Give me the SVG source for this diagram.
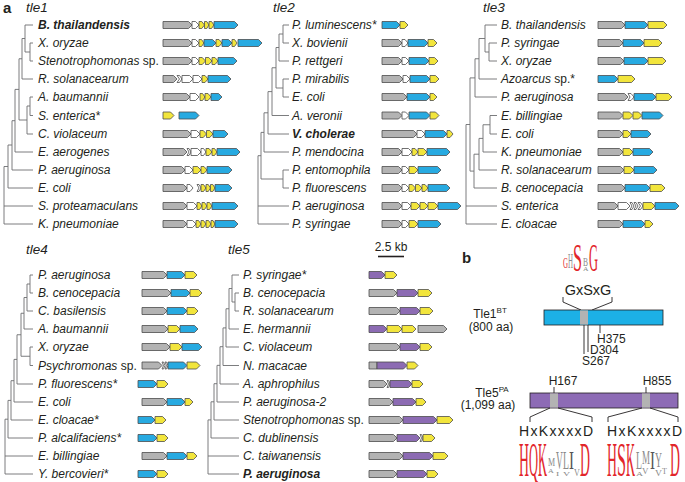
<svg xmlns="http://www.w3.org/2000/svg" width="685" height="482" viewBox="0 0 685 482">
<style>
text{font-family:"Liberation Sans",Arial,sans-serif;fill:#231f20}
.l{font-size:12px;font-style:italic}
.bd{font-weight:bold}
.up{font-style:normal}
.h{font-size:13.5px;font-style:italic}
.pl{font-size:15px;font-weight:bold}
.g{fill:#b3b3b3;stroke:#4d4d4d;stroke-width:.8}
.w{fill:#fff;stroke:#4d4d4d;stroke-width:.8}
.y{fill:#f2e53c;stroke:#4d4d4d;stroke-width:.8}
.b{fill:#27aae1;stroke:#4d4d4d;stroke-width:.8}
.p{fill:#8c6bb3;stroke:#4d4d4d;stroke-width:.8}
.tr{fill:none;stroke:#6d6e71;stroke-width:.9}
.k{fill:none;stroke:#231f20;stroke-width:.9}
.s{font-size:12px}
.lr{font-family:"Liberation Serif","Times New Roman",serif;fill:#e2262b}
.lg{font-family:"Liberation Serif","Times New Roman",serif;fill:#8a8a8a}
.ld{font-family:"Liberation Serif","Times New Roman",serif;fill:#555}
</style>
<rect width="685" height="482" fill="#fff"/>
<text class="pl" x="3" y="13">a</text>
<text class="h" x="26" y="12">tle1</text>
<text class="h" x="273" y="12">tle2</text>
<text class="h" x="483" y="12">tle3</text>
<text class="h" x="26" y="254">tle4</text>
<text class="h" x="228" y="254">tle5</text>
<g id="connectors">
<path class="tr" d="M33 43H30V61H33M33 25H25V52H30M33 79H22V38.5H25M33 97H30V115.5H33M33 134H27V106H30M22 58.75H19V120H27M33 152H15V89.4H19M33 170H12V120.7H15M33 188H8V145H12M8 166.5H4V224H33M4 206H33"/>
<path class="tr" d="M289 25H283V43H289M289 61H279V34H283M289 79H283V97H289M279 47.5H276V88H283M289 115.5H272V67.75H276M289 134H268V91.6H272M289 152H264V112.8H268M289 170H283V188H289M264 132.4H261V179H283M261 155.7H258V224H289M258 206H289"/>
<path class="tr" d="M497 43H489V61H497M497 25H485V52H489M497 79H479V38.5H485M497 97H475V58.75H479M497 115.5H490V134H497M497 152H483V124.75H490M497 170H479V138.4H483M497 188H474V154.2H479M475 77.9H470V171.1H474M470 124.5H466V224H497M466 206H497"/>
<path class="tr" d="M33 275H30V293H33M33 311H27V284H30M33 329H24V297.5H27M33 347H30V365.5H33M24 313.25H21V356.25H30M33 384H17V334.75H21M33 402H14V359.4H17M33 420H11V380.7H14M33 438H8V400.4H11M8 419.2H5V474H33M5 456H33"/>
<path class="tr" d="M239 293H235V311H239M239 275H232V302H235M239 329H229V288.5H232M239 347H226V308.75H229M239 365.5H223V327.9H226M239 384H220V346.7H223M239 402H217V365.35H220M239 420H214V383.7H217M239 438H211V401.8H214M211 419.9H208V474H239M208 456H239"/>
</g>
<!-- tle1 -->
<g id="t1-bthai" transform="translate(0,25)"><text class="l bd" x="38" y="4.3">B. thailandensis</text>
<path class="g" d="M163-3.5H188.5L192 0L188.5 3.5H163Z"/><path class="w" d="M192-3.5H195.5L199 0L195.5 3.5H192Z"/><path class="y" d="M199-3.5H201.75L204.5 0L201.75 3.5H199Z"/><path class="y" d="M204.5-3.5H206.75L209 0L206.75 3.5H204.5Z"/><path class="y" d="M209-3.5H211.5L214 0L211.5 3.5H209Z"/><path class="b" d="M214-3.5H234.5L238 0L234.5 3.5H214Z"/></g>
<g id="t1-xory" transform="translate(0,43)"><text class="l" x="38" y="4.3">X. oryzae</text>
<path class="g" d="M163-3.5H188.5L192 0L188.5 3.5H163Z"/><path class="w" d="M192-3.5H195.5L199 0L195.5 3.5H192Z"/><path class="y" d="M199-3.5H201.5L204 0L201.5 3.5H199Z"/><path class="b" d="M204-3.5H212.5L216 0L212.5 3.5H204Z"/><path class="y" d="M216-3.5H219L222 0L219 3.5H216Z"/><path class="b" d="M222-3.5H228.5L232 0L228.5 3.5H222Z"/><path class="y" d="M232-3.5H234.5L237 0L234.5 3.5H232Z"/><path class="b" d="M238-3.5H258.5L262 0L258.5 3.5H238Z"/></g>
<g id="t1-steno" transform="translate(0,61)"><text class="l" x="38" y="4.3">Stenotrophomonas <tspan class="up">sp.</tspan></text>
<path class="g" d="M163-3.5H188.5L192 0L188.5 3.5H163Z"/><path class="w" d="M192-3.5H195.5L199 0L195.5 3.5H192Z"/><path class="y" d="M199-3.5H202.25L205.5 0L202.25 3.5H199Z"/><path class="y" d="M205.5-3.5H208.75L212 0L208.75 3.5H205.5Z"/><path class="y" d="M212-3.5H215L218 0L215 3.5H212Z"/><path class="b" d="M218-3.5H233.5L237 0L233.5 3.5H218Z"/></g>
<g id="t1-rsol" transform="translate(0,79)"><text class="l" x="38" y="4.3">R. solanacearum</text>
<path class="g" d="M163-3.5H173.5L177 0L173.5 3.5H163Z"/><path class="w" d="M177-3.5H179.5L182 0L179.5 3.5H177L179.5 0Z"/><path class="w" d="M182-3.5H189.5L193 0L189.5 3.5H182Z"/><path class="w" d="M193-3.5H198.5L202 0L198.5 3.5H193Z"/><path class="y" d="M202-3.5H205L208 0L205 3.5H202Z"/><path class="b" d="M208-3.5H227.5L231 0L227.5 3.5H208Z"/></g>
<g id="t1-abau" transform="translate(0,97)"><text class="l" x="38" y="4.3">A. baumannii</text>
<path class="g" d="M163-3.5H186.5L190 0L186.5 3.5H163Z"/><path class="w" d="M190-3.5H195.5L199 0L195.5 3.5H190Z"/><path class="y" d="M200-3.5H202.5L205 0L202.5 3.5H200Z"/><path class="y" d="M205-3.5H208L211 0L208 3.5H205Z"/><path class="b" d="M211-3.5H218.5L222 0L218.5 3.5H211Z"/></g>
<g id="t1-sent" transform="translate(0,115.5)"><text class="l" x="38" y="4.3">S. enterica*</text>
<path class="y" d="M163-3.5H170.5L174 0L170.5 3.5H163Z"/><path class="b" d="M179-3.5H195.5L199 0L195.5 3.5H179Z"/></g>
<g id="t1-cvio" transform="translate(0,134)"><text class="l" x="38" y="4.3">C. violaceum</text>
<path class="g" d="M163-3.5H187.5L191 0L187.5 3.5H163Z"/><path class="w" d="M191-3.5H196.5L200 0L196.5 3.5H191Z"/><path class="y" d="M200-3.5H203.25L206.5 0L203.25 3.5H200Z"/><path class="y" d="M206.5-3.5H209.75L213 0L209.75 3.5H206.5Z"/><path class="b" d="M213-3.5H224.5L228 0L224.5 3.5H213Z"/></g>
<g id="t1-eaer" transform="translate(0,152)"><text class="l" x="38" y="4.3">E. aerogenes</text>
<path class="g" d="M163-3.5H183.5L187 0L183.5 3.5H163Z"/><path class="w" d="M187-3.5H189L191 0L189 3.5H187L189 0Z"/><path class="w" d="M191-3.5H197.5L201 0L197.5 3.5H191Z"/><path class="w" d="M201-3.5H203.5L206 0L203.5 3.5H201Z"/><path class="y" d="M206-3.5H209L212 0L209 3.5H206Z"/><path class="y" d="M212-3.5H214.5L217 0L214.5 3.5H212Z"/><path class="b" d="M217-3.5H236.5L240 0L236.5 3.5H217Z"/></g>
<g id="t1-paer" transform="translate(0,170)"><text class="l" x="38" y="4.3">P. aeruginosa</text>
<path class="g" d="M163-3.5H181.5L185 0L181.5 3.5H163Z"/><path class="w" d="M185-3.5H189.5L193 0L189.5 3.5H185Z"/><path class="y" d="M193-3.5H197.5L201 0L197.5 3.5H193Z"/><path class="y" d="M201-3.5H204L207 0L204 3.5H201Z"/><path class="b" d="M207-3.5H228.5L232 0L228.5 3.5H207Z"/></g>
<g id="t1-ecoli" transform="translate(0,188)"><text class="l" x="38" y="4.3">E. coli</text>
<path class="g" d="M163-3.5H183.5L187 0L183.5 3.5H163Z"/><path class="w" d="M187-3.5H190L193 0L190 3.5H187Z"/><path class="w" d="M197-3.5H199L201 0L199 3.5H197L199 0Z"/><path class="y" d="M201-3.5H203.5L206 0L203.5 3.5H201Z"/><path class="y" d="M206-3.5H208.25L210.5 0L208.25 3.5H206Z"/><path class="y" d="M210.5-3.5H212.75L215 0L212.75 3.5H210.5Z"/><path class="b" d="M215-3.5H228.5L232 0L228.5 3.5H215Z"/></g>
<g id="t1-sprot" transform="translate(0,206)"><text class="l" x="38" y="4.3">S. proteamaculans</text>
<path class="g" d="M163-3.5H183.5L187 0L183.5 3.5H163Z"/><path class="w" d="M187-3.5H193.5L197 0L193.5 3.5H187Z"/><path class="y" d="M197-3.5H199.5L202 0L199.5 3.5H197Z"/><path class="y" d="M202-3.5H204.5L207 0L204.5 3.5H202Z"/><path class="y" d="M207-3.5H209.5L212 0L209.5 3.5H207Z"/><path class="b" d="M212-3.5H234.5L238 0L234.5 3.5H212Z"/></g>
<g id="t1-kpn" transform="translate(0,224)"><text class="l" x="38" y="4.3">K. pneumoniae</text>
<path class="g" d="M163-3.5H183.5L187 0L183.5 3.5H163Z"/><path class="w" d="M187-3.5H192.5L196 0L192.5 3.5H187Z"/><path class="y" d="M196-3.5H198.5L201 0L198.5 3.5H196Z"/><path class="y" d="M201-3.5H203.5L206 0L203.5 3.5H201Z"/><path class="y" d="M206-3.5H208.5L211 0L208.5 3.5H206Z"/><path class="y" d="M211-3.5H213L215 0L213 3.5H211Z"/><path class="b" d="M215-3.5H234.5L238 0L234.5 3.5H215Z"/></g>
<!-- tle2 -->
<g id="t2-plum" transform="translate(0,25)"><text class="l" x="292" y="4.3">P. luminescens*</text>
<path class="b" d="M382-3.5H396.5L400 0L396.5 3.5H382Z"/><path class="y" d="M400-3.5H404.5L408 0L404.5 3.5H400Z"/></g>
<g id="t2-xbov" transform="translate(0,43)"><text class="l" x="292" y="4.3">X. bovienii</text>
<path class="g" d="M382-3.5H398.5L402 0L398.5 3.5H382Z"/><path class="w" d="M402-3.5H405L408 0L405 3.5H402Z"/><path class="b" d="M408-3.5H424.5L428 0L424.5 3.5H408Z"/><path class="y" d="M428-3.5H433.5L437 0L433.5 3.5H428Z"/></g>
<g id="t2-pret" transform="translate(0,61)"><text class="l" x="292" y="4.3">P. rettgeri</text>
<path class="g" d="M382-3.5H398.5L402 0L398.5 3.5H382Z"/><path class="w" d="M402-3.5H405.5L409 0L405.5 3.5H402Z"/><path class="b" d="M409-3.5H425.5L429 0L425.5 3.5H409Z"/><path class="y" d="M429-3.5H434.5L438 0L434.5 3.5H429Z"/></g>
<g id="t2-pmir" transform="translate(0,79)"><text class="l" x="292" y="4.3">P. mirabilis</text>
<path class="g" d="M382-3.5H399.5L403 0L399.5 3.5H382Z"/><path class="w" d="M403-3.5H406.5L410 0L406.5 3.5H403Z"/><path class="b" d="M410-3.5H426.5L430 0L426.5 3.5H410Z"/><path class="y" d="M430-3.5H435.5L439 0L435.5 3.5H430Z"/></g>
<g id="t2-ecoli" transform="translate(0,97)"><text class="l" x="292" y="4.3">E. coli</text>
<path class="g" d="M382-3.5H403.5L407 0L403.5 3.5H382Z"/><path class="b" d="M407-3.5H426.5L430 0L426.5 3.5H407Z"/><path class="y" d="M430-3.5H433.5L437 0L433.5 3.5H430Z"/></g>
<g id="t2-aver" transform="translate(0,115.5)"><text class="l" x="292" y="4.3">A. veronii</text>
<path class="g" d="M382-3.5H398.5L402 0L398.5 3.5H382Z"/><path class="w" d="M402-3.5H405.5L409 0L405.5 3.5H402Z"/><path class="b" d="M409-3.5H426.5L430 0L426.5 3.5H409Z"/><path class="y" d="M430-3.5H435.5L439 0L435.5 3.5H430Z"/></g>
<g id="t2-vcho" transform="translate(0,134)"><text class="l bd" x="292" y="4.3">V. cholerae</text>
<path class="g" d="M382-3.5H413.5L417 0L413.5 3.5H382Z"/><path class="w" d="M417-3.5H421.5L425 0L421.5 3.5H417Z"/><path class="b" d="M425-3.5H443.5L447 0L443.5 3.5H425Z"/><path class="y" d="M447-3.5H450L453 0L450 3.5H447Z"/></g>
<g id="t2-pmen" transform="translate(0,152)"><text class="l" x="292" y="4.3">P. mendocina</text>
<path class="g" d="M382-3.5H398.5L402 0L398.5 3.5H382Z"/><path class="w" d="M402-3.5H408.5L412 0L408.5 3.5H402Z"/><path class="y" d="M412-3.5H415L418 0L415 3.5H412Z"/><path class="y" d="M418-3.5H423.5L427 0L423.5 3.5H418Z"/><path class="b" d="M427-3.5H446.5L450 0L446.5 3.5H427Z"/></g>
<g id="t2-pent" transform="translate(0,170)"><text class="l" x="292" y="4.3">P. entomophila</text>
<path class="g" d="M382-3.5H398.5L402 0L398.5 3.5H382Z"/><path class="w" d="M402-3.5H405.5L409 0L405.5 3.5H402Z"/><path class="y" d="M409-3.5H414.5L418 0L414.5 3.5H409Z"/><path class="b" d="M418-3.5H437.5L441 0L437.5 3.5H418Z"/></g>
<g id="t2-pflu" transform="translate(0,188)"><text class="l" x="292" y="4.3">P. fluorescens</text>
<path class="g" d="M382-3.5H398.5L402 0L398.5 3.5H382Z"/><path class="w" d="M402-3.5H405.5L409 0L405.5 3.5H402Z"/><path class="y" d="M409-3.5H412.25L415.5 0L412.25 3.5H409Z"/><path class="y" d="M415.5-3.5H418.75L422 0L418.75 3.5H415.5Z"/><path class="y" d="M422-3.5H425L428 0L425 3.5H422Z"/><path class="b" d="M428-3.5H446.5L450 0L446.5 3.5H428Z"/></g>
<g id="t2-paer" transform="translate(0,206)"><text class="l" x="292" y="4.3">P. aeruginosa</text>
<path class="g" d="M382-3.5H398.5L402 0L398.5 3.5H382Z"/><path class="w" d="M402-3.5H407.5L411 0L407.5 3.5H402Z"/><path class="y" d="M411-3.5H416.5L420 0L416.5 3.5H411Z"/><path class="y" d="M420-3.5H424.5L428 0L424.5 3.5H420Z"/><path class="y" d="M428-3.5H434.5L438 0L434.5 3.5H428Z"/><path class="b" d="M438-3.5H457.5L461 0L457.5 3.5H438Z"/></g>
<g id="t2-psyr" transform="translate(0,224)"><text class="l" x="292" y="4.3">P. syringae</text>
<path class="g" d="M382-3.5H398.5L402 0L398.5 3.5H382Z"/><path class="w" d="M402-3.5H405.5L409 0L405.5 3.5H402Z"/><path class="y" d="M409-3.5H414.5L418 0L414.5 3.5H409Z"/><path class="b" d="M418-3.5H437.5L441 0L437.5 3.5H418Z"/></g>
<!-- tle3 -->
<g id="t3-bthai" transform="translate(0,25)"><text class="l" x="501" y="4.3">B. thailandensis</text>
<path class="g" d="M598-3.5H621.5L625 0L621.5 3.5H598Z"/><path class="b" d="M625-3.5H644.5L648 0L644.5 3.5H625Z"/><path class="y" d="M648-3.5H663.5L667 0L663.5 3.5H648Z"/></g>
<g id="t3-psyr" transform="translate(0,43)"><text class="l" x="501" y="4.3">P. syringae</text>
<path class="g" d="M598-3.5H619.5L623 0L619.5 3.5H598Z"/><path class="b" d="M623-3.5H640.5L644 0L640.5 3.5H623Z"/><path class="y" d="M644-3.5H658.5L662 0L658.5 3.5H644Z"/></g>
<g id="t3-xory" transform="translate(0,61)"><text class="l" x="501" y="4.3">X. oryzae</text>
<path class="g" d="M598-3.5H620.5L624 0L620.5 3.5H598Z"/><path class="b" d="M624-3.5H644.5L648 0L644.5 3.5H624Z"/><path class="y" d="M648-3.5H662.5L666 0L662.5 3.5H648Z"/></g>
<g id="t3-azo" transform="translate(0,79)"><text class="l" x="501" y="4.3">Azoarcus <tspan class="up">sp.*</tspan></text>
<path class="b" d="M598-3.5H614.5L618 0L614.5 3.5H598Z"/><path class="y" d="M618-3.5H631.5L635 0L631.5 3.5H618Z"/></g>
<g id="t3-paer" transform="translate(0,97)"><text class="l" x="501" y="4.3">P. aeruginosa</text>
<path class="g" d="M598-3.5H624.5L628 0L624.5 3.5H598Z"/><path class="w" d="M628-3.5H631L634 0L631 3.5H628L630 0Z"/><path class="b" d="M634-3.5H652.5L656 0L652.5 3.5H634Z"/><path class="y" d="M656-3.5H668.5L672 0L668.5 3.5H656Z"/></g>
<g id="t3-ebil" transform="translate(0,115.5)"><text class="l" x="501" y="4.3">E. billingiae</text>
<path class="g" d="M598-3.5H619.5L623 0L619.5 3.5H598Z"/><path class="y" d="M623-3.5H629.5L633 0L629.5 3.5H623Z"/><path class="y" d="M633-3.5H638.5L642 0L638.5 3.5H633Z"/><path class="b" d="M642-3.5H659.5L663 0L659.5 3.5H642Z"/></g>
<g id="t3-ecoli" transform="translate(0,134)"><text class="l" x="501" y="4.3">E. coli</text>
<path class="g" d="M598-3.5H619.5L623 0L619.5 3.5H598Z"/><path class="y" d="M623-3.5H627.5L631 0L627.5 3.5H623Z"/><path class="b" d="M631-3.5H647.5L651 0L647.5 3.5H631Z"/></g>
<g id="t3-kpn" transform="translate(0,152)"><text class="l" x="501" y="4.3">K. pneumoniae</text>
<path class="g" d="M598-3.5H619.5L623 0L619.5 3.5H598Z"/><path class="y" d="M623-3.5H629.5L633 0L629.5 3.5H623Z"/><path class="b" d="M633-3.5H649.5L653 0L649.5 3.5H633Z"/></g>
<g id="t3-rsol" transform="translate(0,170)"><text class="l" x="501" y="4.3">R. solanacearum</text>
<path class="g" d="M598-3.5H620.5L624 0L620.5 3.5H598Z"/><path class="y" d="M624-3.5H630.5L634 0L630.5 3.5H624Z"/><path class="b" d="M634-3.5H653.5L657 0L653.5 3.5H634Z"/></g>
<g id="t3-bcen" transform="translate(0,188)"><text class="l" x="501" y="4.3">B. cenocepacia</text>
<path class="g" d="M598-3.5H621.5L625 0L621.5 3.5H598Z"/><path class="b" d="M625-3.5H646.5L650 0L646.5 3.5H625Z"/><path class="y" d="M650-3.5H661.5L665 0L661.5 3.5H650Z"/></g>
<g id="t3-sent" transform="translate(0,206)"><text class="l" x="501" y="4.3">S. enterica</text>
<path class="g" d="M598-3.5H614.5L618 0L614.5 3.5H598Z"/><path class="w" d="M618-3.5H626.5L630 0L626.5 3.5H618Z"/><path class="w" d="M630-3.5H632L634 0L632 3.5H630L632 0Z"/><path class="w" d="M634-3.5H636L638 0L636 3.5H634L636 0Z"/><path class="w" d="M638-3.5H640.5L643 0L640.5 3.5H638L640.5 0Z"/><path class="y" d="M643-3.5H651.5L655 0L651.5 3.5H643Z"/><path class="b" d="M655-3.5H675.5L679 0L675.5 3.5H655Z"/></g>
<g id="t3-eclo" transform="translate(0,224)"><text class="l" x="501" y="4.3">E. cloacae</text>
<path class="g" d="M598-3.5H619.5L623 0L619.5 3.5H598Z"/><path class="b" d="M623-3.5H641.5L645 0L641.5 3.5H623Z"/><path class="y" d="M645-3.5H649.5L653 0L649.5 3.5H645Z"/></g>
<!-- tle4 -->
<g id="t4-paer" transform="translate(0,275)"><text class="l" x="38" y="4.3">P. aeruginosa</text>
<path class="g" d="M142-3.5H163.5L167 0L163.5 3.5H142Z"/><path class="b" d="M167-3.5H181.5L185 0L181.5 3.5H167Z"/><path class="y" d="M185-3.5H193.5L197 0L193.5 3.5H185Z"/></g>
<g id="t4-bcen" transform="translate(0,293)"><text class="l" x="38" y="4.3">B. cenocepacia</text>
<path class="g" d="M142-3.5H167.5L171 0L167.5 3.5H142Z"/><path class="b" d="M171-3.5H186.5L190 0L186.5 3.5H171Z"/><path class="y" d="M190-3.5H198.5L202 0L198.5 3.5H190Z"/></g>
<g id="t4-cbas" transform="translate(0,311)"><text class="l" x="38" y="4.3">C. basilensis</text>
<path class="g" d="M142-3.5H163.5L167 0L163.5 3.5H142Z"/><path class="b" d="M167-3.5H183.5L187 0L183.5 3.5H167Z"/><path class="y" d="M187-3.5H194.5L198 0L194.5 3.5H187Z"/></g>
<g id="t4-abau" transform="translate(0,329)"><text class="l" x="38" y="4.3">A. baumannii</text>
<path class="g" d="M142-3.5H164.5L168 0L164.5 3.5H142Z"/><path class="y" d="M168-3.5H176.5L180 0L176.5 3.5H168Z"/><path class="b" d="M180-3.5H194.5L198 0L194.5 3.5H180Z"/></g>
<g id="t4-xory" transform="translate(0,347)"><text class="l" x="38" y="4.3">X. oryzae</text>
<path class="g" d="M142-3.5H166.5L170 0L166.5 3.5H142Z"/><path class="y" d="M170-3.5H178.5L182 0L178.5 3.5H170Z"/><path class="b" d="M182-3.5H198.5L202 0L198.5 3.5H182Z"/></g>
<g id="t4-psy" transform="translate(0,365.5)"><text class="l" x="38" y="4.3">Psychromonas <tspan class="up">sp.</tspan></text>
<path class="g" d="M142-3.5H158.5L162 0L158.5 3.5H142Z"/><path class="w" d="M162-3.5H163.5L165 0L163.5 3.5H162L163.5 0Z"/><path class="w" d="M165-3.5H166.5L168 0L166.5 3.5H165L166.5 0Z"/><path class="b" d="M168-3.5H183.5L187 0L183.5 3.5H168Z"/><path class="y" d="M187-3.5H196.5L200 0L196.5 3.5H187Z"/></g>
<g id="t4-pflu" transform="translate(0,384)"><text class="l" x="38" y="4.3">P. fluorescens*</text>
<path class="b" d="M138-3.5H153.5L157 0L153.5 3.5H138Z"/><path class="y" d="M157-3.5H164.5L168 0L164.5 3.5H157Z"/></g>
<g id="t4-ecoli" transform="translate(0,402)"><text class="l" x="38" y="4.3">E. coli</text>
<path class="g" d="M142-3.5H163.5L167 0L163.5 3.5H142Z"/><path class="b" d="M167-3.5H181.5L185 0L181.5 3.5H167Z"/><path class="y" d="M185-3.5H189.5L193 0L189.5 3.5H185Z"/></g>
<g id="t4-eclo" transform="translate(0,420)"><text class="l" x="38" y="4.3">E. cloacae*</text>
<path class="b" d="M138-3.5H151.5L155 0L151.5 3.5H138Z"/><path class="y" d="M155-3.5H162.5L166 0L162.5 3.5H155Z"/></g>
<g id="t4-palc" transform="translate(0,438)"><text class="l" x="38" y="4.3">P. alcalifaciens*</text>
<path class="b" d="M138-3.5H153.5L157 0L153.5 3.5H138Z"/><path class="y" d="M157-3.5H164.5L168 0L164.5 3.5H157Z"/></g>
<g id="t4-ebil" transform="translate(0,456)"><text class="l" x="38" y="4.3">E. billingiae</text>
<path class="g" d="M142-3.5H163.5L167 0L163.5 3.5H142Z"/><path class="b" d="M167-3.5H183.5L187 0L183.5 3.5H167Z"/><path class="y" d="M187-3.5H193.5L197 0L193.5 3.5H187Z"/></g>
<g id="t4-yber" transform="translate(0,474)"><text class="l" x="38" y="4.3">Y. bercovieri*</text>
<path class="b" d="M138-3.5H153.5L157 0L153.5 3.5H138Z"/><path class="y" d="M157-3.5H164.5L168 0L164.5 3.5H157Z"/></g>
<!-- tle5 -->
<g id="t5-psyr" transform="translate(0,275)"><text class="l" x="243" y="4.3">P. syringae*</text>
<path class="p" d="M369-3.5H381.5L385 0L381.5 3.5H369Z"/><path class="y" d="M385-3.5H393.5L397 0L393.5 3.5H385Z"/></g>
<g id="t5-bcen" transform="translate(0,293)"><text class="l" x="243" y="4.3">B. cenocepacia</text>
<path class="g" d="M369-3.5H393.5L397 0L393.5 3.5H369Z"/><path class="p" d="M397-3.5H414.5L418 0L414.5 3.5H397Z"/><path class="y" d="M418-3.5H428.5L432 0L428.5 3.5H418Z"/></g>
<g id="t5-rsol" transform="translate(0,311)"><text class="l" x="243" y="4.3">R. solanacearum</text>
<path class="g" d="M369-3.5H396.5L400 0L396.5 3.5H369Z"/><path class="p" d="M400-3.5H416.5L420 0L416.5 3.5H400Z"/><path class="y" d="M420-3.5H429.5L433 0L429.5 3.5H420Z"/></g>
<g id="t5-eher" transform="translate(0,329)"><text class="l" x="243" y="4.3">E. hermannii</text>
<path class="p" d="M369-3.5H383.5L387 0L383.5 3.5H369Z"/><path class="y" d="M387-3.5H398.5L402 0L398.5 3.5H387Z"/><path class="y" d="M402-3.5H412.5L416 0L412.5 3.5H402Z"/><path class="g" d="M418-3.5H443.5L447 0L443.5 3.5H418Z"/></g>
<g id="t5-cvio" transform="translate(0,347)"><text class="l" x="243" y="4.3">C. violaceum</text>
<path class="g" d="M369-3.5H396.5L400 0L396.5 3.5H369Z"/><path class="p" d="M400-3.5H416.5L420 0L416.5 3.5H400Z"/><path class="y" d="M420-3.5H428.5L432 0L428.5 3.5H420Z"/></g>
<g id="t5-nmac" transform="translate(0,365.5)"><text class="l" x="243" y="4.3">N. macacae</text>
<path class="g" d="M369-3.5H377V3.5H369Z"/><path class="p" d="M377-3.5H403.5L407 0L403.5 3.5H377Z"/><path class="y" d="M407-3.5H414.5L418 0L414.5 3.5H407Z"/></g>
<g id="t5-aaph" transform="translate(0,384)"><text class="l" x="243" y="4.3">A. aphrophilus</text>
<path class="g" d="M369-3.5H383.5L387 0L383.5 3.5H369Z"/><path class="w" d="M387-3.5H388.5L390 0L388.5 3.5H387L388.5 0Z"/><path class="p" d="M390-3.5H408.5L412 0L408.5 3.5H390Z"/><path class="y" d="M412-3.5H419.5L423 0L419.5 3.5H412Z"/></g>
<g id="t5-paer2" transform="translate(0,402)"><text class="l" x="243" y="4.3">P. aeruginosa-2</text>
<path class="g" d="M369-3.5H389.5L393 0L389.5 3.5H369Z"/><path class="p" d="M393-3.5H412.5L416 0L412.5 3.5H393Z"/><path class="y" d="M416-3.5H422.5L426 0L422.5 3.5H416Z"/></g>
<g id="t5-steno" transform="translate(0,420)"><text class="l" x="243" y="4.3">Stenotrophomonas <tspan class="up">sp.</tspan></text>
<path class="g" d="M369-3.5H399.5L403 0L399.5 3.5H369Z"/><path class="p" d="M403-3.5H433.5L437 0L433.5 3.5H403Z"/><path class="y" d="M437-3.5H449.5L453 0L449.5 3.5H437Z"/></g>
<g id="t5-cdub" transform="translate(0,438)"><text class="l" x="243" y="4.3">C. dublinensis</text>
<path class="g" d="M369-3.5H393.5L397 0L393.5 3.5H369Z"/><path class="p" d="M397-3.5H416.5L420 0L416.5 3.5H397Z"/><path class="w" d="M420-3.5H421.5L423 0L421.5 3.5H420L421.5 0Z"/><path class="y" d="M423-3.5H431.5L435 0L431.5 3.5H423Z"/></g>
<g id="t5-ctai" transform="translate(0,456)"><text class="l" x="243" y="4.3">C. taiwanensis</text>
<path class="g" d="M369-3.5H399.5L403 0L399.5 3.5H369Z"/><path class="p" d="M403-3.5H429.5L433 0L429.5 3.5H403Z"/><path class="y" d="M433-3.5H444.5L448 0L444.5 3.5H433Z"/></g>
<g id="t5-paer" transform="translate(0,474)"><text class="l bd" x="243" y="4.3">P. aeruginosa</text>
<path class="g" d="M369-3.5H393.5L397 0L393.5 3.5H369Z"/><path class="p" d="M397-3.5H423.5L427 0L423.5 3.5H397Z"/><path class="y" d="M427-3.5H434.5L438 0L434.5 3.5H427Z"/></g>
<!-- scale bar -->
<g id="scale"><text x="391" y="251" text-anchor="middle" font-size="12">2.5 kb</text><path d="M378 256.5H404" stroke="#231f20" stroke-width="1.6"/></g>
<!-- panel b -->
<text class="pl" x="462" y="263">b</text>
<g id="tle1bt">
<text class="lr" font-size="10" transform="translate(563,268) scale(0.69,1.52)">G</text>
<text class="lg" font-size="10" transform="translate(568,268) scale(0.69,2.1)">H</text>
<text class="lr" font-size="10" transform="translate(573,271) scale(1.62,3.9)">S</text>
<text class="lg" font-size="10" transform="translate(583,266) scale(0.75,1.2)">B</text>
<text class="lg" font-size="10" transform="translate(583,271) scale(0.75,0.6)">A</text>
<text class="lr" font-size="10" transform="translate(589,271) scale(1.25,3.9)">G</text>
<text x="588" y="295" text-anchor="middle" font-size="14.5">GxSxG</text>
<polyline class="k" points="563,297 563,302 581,310"/>
<polyline class="k" points="612,297 612,302 592,310"/>
<rect x="544" y="310" width="119" height="15" fill="#1cb0e6" stroke="#231f20" stroke-width=".8"/>
<rect x="580" y="310.4" width="8" height="14.2" fill="#b3b3b3"/>
<text class="s" x="490" y="318" text-anchor="middle">Tle1<tspan font-size="8" dy="-5">BT</tspan></text>
<text class="s" x="491" y="331" text-anchor="middle">(800 aa)</text>
<path class="k" d="M600 325V333M588 325V352M584 325V354"/>
<text class="s" x="597" y="343">H375</text>
<text class="s" x="590" y="354">D304</text>
<text class="s" x="582" y="365">S267</text>
</g>
<g id="tle5pa">
<rect x="530" y="393" width="148" height="15" fill="#8d6bb5" stroke="#231f20" stroke-width=".8"/>
<rect x="550" y="393.4" width="8" height="14.2" fill="#b3b3b3"/>
<rect x="642" y="393.4" width="8" height="14.2" fill="#b3b3b3"/>
<text class="s" x="563" y="385" text-anchor="middle">H167</text>
<text class="s" x="657" y="385" text-anchor="middle">H855</text>
<path class="k" d="M554 387V393M646 387V393"/>
<text class="s" x="492" y="397" text-anchor="middle">Tle5<tspan font-size="8" dy="-5">PA</tspan></text>
<text class="s" x="488" y="409" text-anchor="middle">(1,099 aa)</text>
<polyline class="k" points="530,422 530,417 550,408"/>
<polyline class="k" points="592,422 592,417 558,408"/>
<polyline class="k" points="608,422 608,417 642,408"/>
<polyline class="k" points="678,422 678,417 650,408"/>
<text x="519" y="436" font-size="14" textLength="74" lengthAdjust="spacing">HxKxxxxD</text>
<text x="607" y="436" font-size="14" textLength="75" lengthAdjust="spacing">HxKxxxxD</text>
<text class="lr" font-size="10" transform="translate(519,476) scale(1.38,4.9)">H</text>
<text class="lr" font-size="10" transform="translate(529,476) scale(1.25,4.9)">Q</text>
<text class="lr" font-size="10" transform="translate(538,476) scale(1.25,4.9)">K</text>
<text class="lg" font-size="10" transform="translate(548,466) scale(0.8,1.2)">M</text>
<text class="lg" font-size="10" transform="translate(548,473) scale(0.8,0.7)">A</text>
<text class="lg" font-size="10" transform="translate(556,469) scale(0.95,2.6)">V</text>
<text class="lg" font-size="10" transform="translate(556,476) scale(0.95,0.7)">I</text>
<text class="lg" font-size="10" transform="translate(563,469) scale(0.98,2.6)">L</text>
<text class="lg" font-size="10" transform="translate(563,476) scale(0.98,0.7)">V</text>
<text class="ld" font-size="10" transform="translate(569,469) scale(1.5,2.6)">I</text>
<text class="lg" font-size="10" transform="translate(574,476) scale(0.8,1.1)">V</text>
<text class="lr" font-size="10" transform="translate(580,476) scale(1.38,4.9)">D</text>
<text class="lr" font-size="10" transform="translate(607,476) scale(1.38,4.9)">H</text>
<text class="lr" font-size="10" transform="translate(617,476) scale(1.62,4.9)">S</text>
<text class="lr" font-size="10" transform="translate(626,476) scale(1.25,4.9)">K</text>
<text class="lg" font-size="10" transform="translate(636,469) scale(0.98,2.6)">L</text>
<text class="lg" font-size="10" transform="translate(636,476) scale(0.98,0.7)">A</text>
<text class="lg" font-size="10" transform="translate(642,464) scale(0.9,1.8)">M</text>
<text class="lg" font-size="10" transform="translate(642,474) scale(0.9,0.9)">V</text>
<text class="ld" font-size="10" transform="translate(650,469) scale(1.5,2.6)">I</text>
<text class="lg" font-size="10" transform="translate(655,467) scale(0.97,2.2)">Y</text>
<text class="lg" font-size="10" transform="translate(655,476) scale(0.97,0.8)">V</text>
<text class="lg" font-size="10" transform="translate(662,474) scale(0.8,0.9)">T</text>
<text class="lr" font-size="10" transform="translate(670,476) scale(1.38,4.9)">D</text>
</g>
</svg>
